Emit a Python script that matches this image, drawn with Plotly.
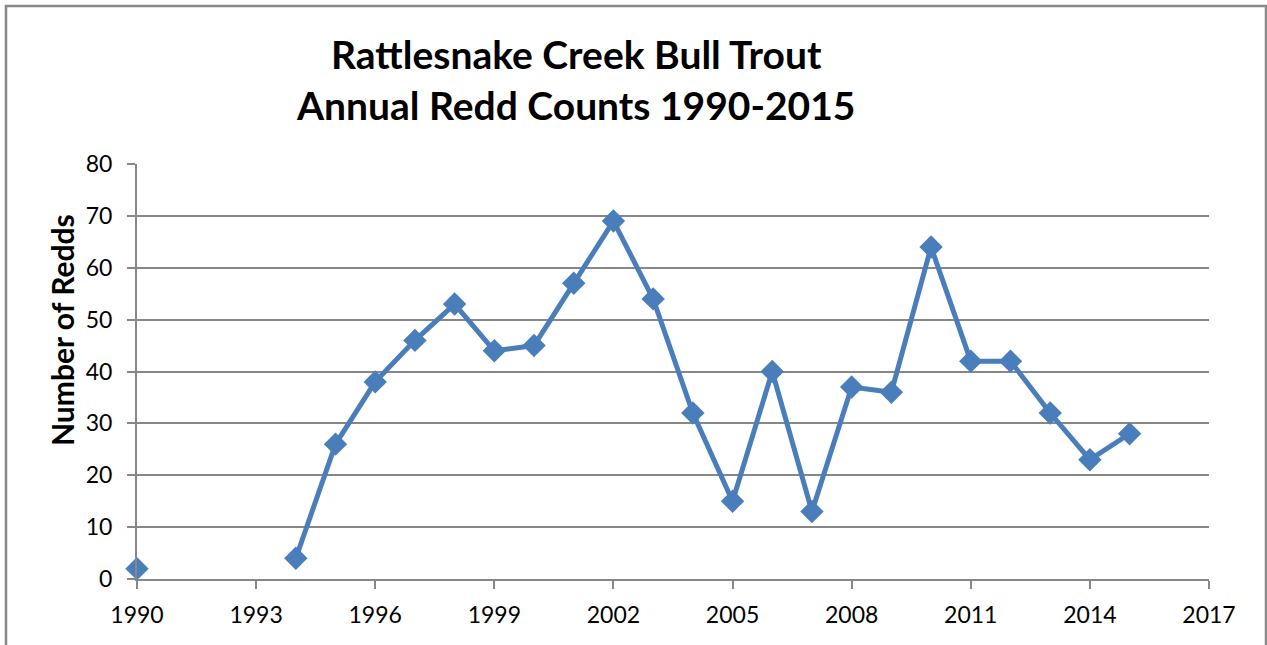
import plotly.graph_objects as go

# Annual redd counts (no surveys 1991-1993)
years = [1990, 1991, 1992, 1993, 1994, 1995, 1996, 1997, 1998, 1999, 2000, 2001,
         2002, 2003, 2004, 2005, 2006, 2007, 2008, 2009, 2010, 2011, 2012, 2013,
         2014, 2015]
redds = [2, None, None, None, 4, 26, 38, 46, 53, 44, 45, 57,
         69, 54, 32, 15, 40, 13, 37, 36, 64, 42, 42, 32,
         23, 28]

x_ticks = [1990, 1993, 1996, 1999, 2002, 2005, 2008, 2011, 2014, 2017]
y_ticks = [0, 10, 20, 30, 40, 50, 60, 70, 80]

blue = "#4a7ebb"
grey = "#878787"
font_family = "Lato, Carlito, Calibri, sans-serif"

fig = go.Figure()
fig.add_trace(go.Scatter(
    x=years, y=redds, mode="lines+markers",
    connectgaps=False, cliponaxis=False,
    line=dict(color=blue, width=5),
    marker=dict(symbol="diamond", size=18, color=blue),
    showlegend=False,
))

fig.update_layout(
    width=1267, height=645,
    margin=dict(l=137, r=58, t=164, b=66),
    paper_bgcolor="white", plot_bgcolor="white",
    font=dict(family=font_family, size=23, color="black"),
    xaxis=dict(
        range=[1990, 2017], tickmode="array", tickvals=x_ticks,
        showgrid=False, zeroline=False,
        showline=True, linecolor=grey, linewidth=2,
        ticks="outside", ticklen=8, tickwidth=2, tickcolor=grey,
        tickfont=dict(size=23), ticklabelstandoff=6,
    ),
    yaxis=dict(
        range=[0, 80], tickmode="array", tickvals=y_ticks,
        showgrid=True, gridcolor=grey, gridwidth=2, zeroline=False,
        showline=True, linecolor=grey, linewidth=2,
        ticks="outside", ticklen=8, tickwidth=2, tickcolor=grey,
        tickfont=dict(size=23), ticklabelstandoff=10,
    ),
    annotations=[
        dict(
            text="<b>Rattlesnake Creek Bull Trout<br>Annual Redd Counts 1990-2015</b>",
            xref="paper", yref="paper", x=0.4095, y=1.203,
            xanchor="center", yanchor="middle",
            showarrow=False, font=dict(size=39), align="center",
        ),
        dict(
            text="<b>Number of Redds</b>",
            xref="paper", yref="paper", x=-0.07, y=0.6, textangle=-90,
            xanchor="center", yanchor="middle",
            showarrow=False, font=dict(size=30),
        ),
    ],
    shapes=[dict(
        type="rect", xref="paper", yref="paper",
        x0=-0.1222, x1=1.0532, y0=-0.2, y1=1.3807,
        line=dict(color="#888888", width=2.5), fillcolor="rgba(0,0,0,0)", layer="below",
    )],
)

fig.write_html("out.html")
